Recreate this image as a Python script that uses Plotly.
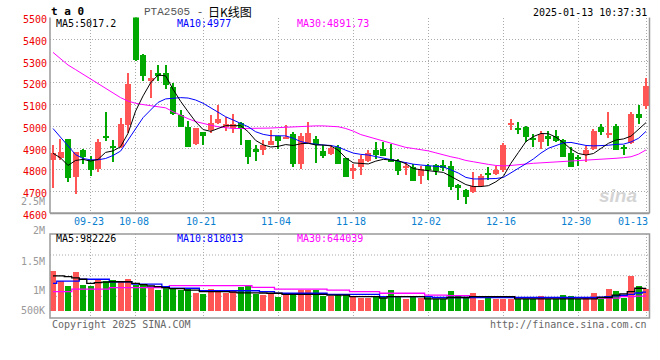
import plotly.graph_objects as go

# ---------------- data ----------------
dates = ["09-12","09-13","09-18","09-19","09-20","09-23","09-24","09-25","09-26","09-27",
         "09-30","10-08","10-09","10-10","10-11","10-14","10-15","10-16","10-17","10-18",
         "10-21","10-22","10-23","10-24","10-25","10-28","10-29","10-30","10-31","11-01",
         "11-04","11-05","11-06","11-07","11-08","11-11","11-12","11-13","11-14","11-15",
         "11-18","11-19","11-20","11-21","11-22","11-25","11-26","11-27","11-28","11-29",
         "12-02","12-03","12-04","12-05","12-06","12-09","12-10","12-11","12-12","12-13",
         "12-16","12-17","12-18","12-19","12-20","12-23","12-24","12-25","12-26","12-27",
         "12-30","12-31","01-02","01-03","01-06","01-07","01-08","01-09","01-10","01-13"]

opens  = [4848,4856,4942,4769,4894,4845,4804,4957,4911,4907,
          5006,5530,5331,5208,5248,5248,5182,5052,4998,4922,
          4975,4983,5018,4998,4994,5018,4940,4899,4891,4914,
          4957,4942,4965,4830,4925,4942,4887,4873,4907,4856,
          4796,4815,4842,4891,4896,4853,4842,4811,4815,4773,
          4818,4822,4822,4818,4730,4707,4700,4726,4787,4781,
          4799,5009,4995,4997,4949,4929,4957,4956,4937,4879,
          4857,4871,4896,4997,4966,5002,4907,4926,5060,5095]
highs  = [4914,4942,4945,4884,4899,4865,4942,5070,4940,5040,
          5248,5560,5335,5259,5285,5285,5202,5078,5025,4994,
          4975,5055,5098,5044,5060,5021,4940,4917,4940,4983,
          4957,5006,4975,4972,5021,4956,4914,4914,4914,4856,
          4830,4871,4891,4930,4930,4919,4850,4838,4830,4819,
          4827,4827,4845,4842,4738,4715,4792,4784,4815,4818,
          4925,5034,5021,5002,4968,4979,4979,4983,4942,4907,
          4868,4910,4991,5011,5070,5014,4917,5070,5101,5224]
lows   = [4718,4845,4746,4692,4830,4772,4792,4935,4838,4902,
          4972,5300,5210,5131,5210,5175,5052,4998,4907,4914,
          4914,4972,5014,4979,4972,4914,4830,4842,4871,4914,
          4899,4942,4815,4804,4925,4833,4856,4870,4827,4769,
          4761,4776,4838,4850,4865,4838,4776,4779,4750,4738,
          4753,4779,4796,4710,4664,4646,4697,4723,4753,4776,
          4792,4983,4965,4930,4907,4899,4911,4930,4861,4815,
          4819,4838,4891,4960,4948,4891,4871,4922,5014,5083]
closes = [4879,4883,4764,4884,4861,4799,4930,4952,4905,5011,
          5195,5305,5233,5223,5233,5193,5060,4998,4907,4994,
          4957,5018,5034,5011,5014,4991,4861,4884,4917,4933,
          4933,4952,4827,4956,4971,4917,4865,4903,4827,4769,
          4811,4850,4879,4868,4865,4838,4796,4815,4750,4807,
          4799,4796,4811,4723,4718,4677,4726,4772,4782,4799,
          4917,5014,4983,4952,4940,4965,4942,4933,4861,4815,
          4853,4891,4979,4975,4972,4891,4899,5060,5040,5187]

ma5  = [4876,4855,4820,4843,4848,4840,4848,4880,4887,4906,
        4968,5070,5140,5200,5236,5232,5170,5115,5067,5021,
        4985,4977,4990,5003,5003,5003,4975,4935,4915,4905,
        4908,4916,4912,4920,4922,4914,4914,4910,4890,4855,
        4832,4830,4827,4840,4848,4845,4842,4828,4806,4800,
        4796,4795,4788,4770,4750,4732,4723,4723,4727,4745,
        4770,4830,4880,4930,4953,4967,4966,4950,4925,4895,
        4875,4868,4875,4900,4922,4937,4942,4955,4985,5017.2]
ma10 = [4990,4950,4907,4870,4852,4846,4846,4852,4866,4886,
        4937,4990,5040,5075,5110,5126,5130,5132,5130,5121,
        5106,5086,5067,5044,5029,5014,4998,4975,4963,4957,
        4957,4956,4945,4930,4922,4917,4914,4912,4905,4890,
        4877,4871,4868,4861,4854,4848,4840,4832,4826,4822,
        4820,4817,4813,4800,4785,4765,4758,4758,4758,4760,
        4765,4785,4805,4828,4850,4877,4899,4913,4924,4926,
        4920,4912,4910,4910,4913,4917,4918,4928,4945,4977]
ma30 = [5340,5313,5282,5261,5240,5218,5196,5175,5152,5132,
        5116,5106,5100,5096,5092,5085,5067,5050,5035,5022,
        5012,5005,4998,4993,4990,4990,4990,4990,4990,4992,
        4994,4996,4998,5000,5002,5002,5002,5001,4998,4990,
        4978,4962,4952,4942,4930,4922,4911,4903,4898,4893,
        4887,4878,4868,4860,4853,4843,4837,4830,4825,4820,
        4818,4820,4824,4828,4830,4832,4834,4836,4837,4839,
        4840,4842,4845,4848,4850,4853,4856,4860,4872,4891.73]

volumes = [1740000,1300000,1080000,1710000,1120000,1080000,1370000,1310000,1370000,1270000,
           1390000,1120000,1200000,1000000, 900000,1080000, 980000, 900000,1020000, 780000,
            730000, 950000, 900000, 760000, 900000,1050000,1090000, 730000, 680000, 780000,
            610000, 680000, 730000, 930000, 930000, 930000, 650000, 650000, 710000, 710000,
            610000, 560000, 580000, 610000, 610000, 930000, 610000, 500000, 650000, 580000,
            610000, 500000, 500000, 860000, 650000, 580000, 760000, 460000, 580000, 500000,
            500000, 500000, 500000, 500000, 500000, 640000, 500000, 500000, 680000, 640000,
            500000, 610000, 760000, 500000, 980000, 860000, 580000,1530000,1080000, 950000]
vma5  = [1540000,1540000,1510000,1450000,1390000,1210000,1240000,1260000,1280000,1280000,
         1280000,1210000,1150000,1090000,1060000,1020000, 970000, 970000, 910000, 910000,
          840000, 840000, 840000, 840000, 820000, 790000, 790000, 790000, 780000, 770000,
          770000, 720000, 720000, 720000, 720000, 720000, 720000, 690000, 690000, 690000,
          620000, 620000, 620000, 620000, 550000, 620000, 620000, 620000, 620000, 620000,
          520000, 520000, 520000, 580000, 580000, 580000, 620000, 620000, 620000, 620000,
          620000, 620000, 520000, 520000, 520000, 520000, 520000, 520000, 520000, 520000,
          520000, 520000, 520000, 580000, 580000, 690000, 740000, 840000, 990000, 982226]
vma10 = [1210000,1310000,1310000,1310000,1390000,1390000,1390000,1390000,1280000,1280000,
         1280000,1170000,1170000,1170000,1170000,1060000, 990000, 990000, 990000, 990000,
          880000, 880000, 880000, 880000, 880000, 880000, 880000, 880000, 840000, 840000,
          770000, 770000, 770000, 770000, 770000, 770000, 770000, 720000, 720000, 720000,
          720000, 720000, 720000, 720000, 620000, 620000, 620000, 620000, 620000, 620000,
          620000, 580000, 580000, 580000, 580000, 580000, 580000, 580000, 580000, 580000,
          580000, 580000, 580000, 580000, 580000, 580000, 580000, 580000, 580000, 580000,
          580000, 580000, 580000, 600000, 620000, 650000, 680000, 720000, 780000, 818013]
vma30 = [ 840000, 840000, 840000, 950000, 950000, 950000, 950000, 950000,1020000,1020000,
         1020000,1020000,1020000,1020000,1020000,1020000,1110000,1110000,1110000,1110000,
         1110000,1110000,1110000,1110000,1110000,1110000,1110000,1030000,1030000,1030000,
          950000, 950000, 950000, 950000, 950000, 950000, 950000, 910000, 910000, 910000,
          840000, 840000, 840000, 840000, 770000, 770000, 770000, 770000, 770000, 770000,
          690000, 690000, 690000, 660000, 660000, 660000, 620000, 620000, 620000, 620000,
          620000, 620000, 570000, 570000, 570000, 570000, 570000, 570000, 570000, 570000,
          570000, 550000, 550000, 550000, 550000, 550000, 620000, 620000, 640000, 644039]

date_labels = ["09-23","10-08","10-21","11-04","11-18","12-02","12-16","12-30","01-13"]
price_ticks = [4600,4700,4800,4900,5000,5100,5200,5300,5400,5500]
vol_axis_labels = ["2.5M","2M","1.5M","1M","500K"]

# ---------------- styling ----------------
W, H = 660, 360
RED, GREEN = "#ff5555", "#00a800"
MONO = "DejaVu Sans Mono"
L, R = 50, 649.5
P_TOP, P_BOT = 17.6, 213.3
V_TOP, V_BOT = 234, 318

def px(x): return x / W
def py(y): return 1 - y / H

colors = [RED if c >= o else GREEN for o, c in zip(opens, closes)]
body_base = [min(o, c) for o, c in zip(opens, closes)]
body_h = [max(abs(c - o), 4) for o, c in zip(opens, closes)]
wick_h = [h - l for h, l in zip(highs, lows)]

fig = go.Figure()
fig.add_trace(go.Bar(x=dates, y=wick_h, base=lows, width=0.14, marker_color=colors,
                     marker_line_width=0, xaxis="x", yaxis="y", hoverinfo="skip"))
fig.add_trace(go.Bar(x=dates, y=body_h, base=body_base, width=0.8, marker_color=colors,
                     marker_line_width=0, xaxis="x", yaxis="y"))
for vals, col in [(ma30, "#ff00ff"), (ma10, "#0000ff"), (ma5, "#000000")]:
    fig.add_trace(go.Scatter(x=dates, y=vals, mode="lines", line=dict(color=col, width=1),
                             xaxis="x", yaxis="y", hoverinfo="skip"))
fig.add_trace(go.Bar(x=dates, y=volumes, width=0.8, marker_color=colors, marker_line_width=0,
                     xaxis="x2", yaxis="y2"))
for vals, col in [(vma30, "#ff00ff"), (vma10, "#0000ff"), (vma5, "#000000")]:
    fig.add_trace(go.Scatter(x=dates, y=vals, mode="lines", line=dict(color=col, width=1.3, shape="hvh"),
                             xaxis="x2", yaxis="y2", hoverinfo="skip"))

xcommon = dict(domain=[px(L), px(R)], type="category", range=[-0.4, 79.46],
               showticklabels=False, ticks="", showgrid=True, gridcolor="#aaaaaa",
               griddash="1px,2px", gridwidth=1, tickvals=date_labels, zeroline=False,
               showline=False, fixedrange=True, automargin=False)
fig.update_layout(
    width=W, height=H, margin=dict(l=0, r=0, t=0, b=0, autoexpand=False),
    paper_bgcolor="white", plot_bgcolor="white", showlegend=False,
    barmode="overlay", bargap=0,
    xaxis=dict(anchor="y", **xcommon),
    xaxis2=dict(anchor="y2", matches="x", **xcommon),
    yaxis=dict(domain=[py(P_BOT), py(P_TOP)], range=[4600, 5500], tickvals=price_ticks,
               tickfont=dict(family=MONO, size=10, color="#ee0000"), ticks="",
               showgrid=True, gridcolor="#aaaaaa", griddash="1px,2px", zeroline=False,
               showline=False, anchor="x", automargin=False, ticklabelstandoff=2,
               ticklabelshift=2),
    yaxis2=dict(domain=[py(V_BOT), py(V_TOP)], range=[-330000, 3400000], showticklabels=False,
                ticks="", showgrid=False, zeroline=False, showline=False, anchor="x2",
                automargin=False),
)

shapes = []
line_col = "#999999"
shapes.append(dict(type="line", xref="paper", yref="paper", x0=px(L), x1=px(L), y0=py(P_BOT), y1=py(P_TOP),
                   line=dict(color=line_col, width=1.5)))
shapes.append(dict(type="line", xref="paper", yref="paper", x0=px(R), x1=px(R), y0=py(P_BOT), y1=py(P_TOP),
                   line=dict(color=line_col, width=1.5)))
shapes.append(dict(type="line", xref="paper", yref="paper", x0=px(L), x1=px(R), y0=py(P_BOT), y1=py(P_BOT),
                   line=dict(color=line_col, width=2)))
shapes.append(dict(type="rect", xref="paper", yref="paper", x0=px(L), x1=px(R), y0=py(V_BOT), y1=py(V_TOP),
                   line=dict(color=line_col, width=1.5)))
for gy in [255, 275.7, 296.3]:
    shapes.append(dict(type="line", xref="paper", yref="paper", x0=px(L), x1=px(R), y0=py(gy), y1=py(gy),
                       line=dict(color="#aaaaaa", width=1, dash="1px,2px"), layer="below"))
fig.update_layout(shapes=shapes)

ann = []
def text(x, y, s, color="#000000", size=10, anchor="left", family=MONO):
    ann.append(dict(x=px(x), y=py(y), xref="paper", yref="paper", text=s, showarrow=False,
                    xanchor=anchor, yanchor="middle", font=dict(family=family, size=size, color=color)))

text(49, 11.5, "<b>t a 0</b>", size=11)
text(141.5, 11.5, "PTA2505 -", color="#555555", size=11, family="Liberation Mono")
text(206, 11.5, "日K线图", size=12, family="Noto Sans CJK SC")
text(649, 12.5, "2025-01-13 10:37:31", anchor="right")
text(54, 23.3, "MA5:5017.2")
text(175, 23.3, "MA10:4977", color="#0000ff")
text(295, 23.3, "MA30:4891.73", color="#ff00ff")
text(54, 238.5, "MA5:982226")
text(175, 238.5, "MA10:818013", color="#0000ff")
text(295, 238.5, "MA30:644039", color="#ff00ff")
for lab, yy in zip(vol_axis_labels, [201, 230.7, 261, 290.7, 310.7]):
    text(46.5, yy, lab, color="#999999", anchor="right")
text(50, 324, "Copyright 2025 SINA.COM", color="#666666")
text(649, 324, "http://finance.sina.com.cn", color="#666666", anchor="right")
text(618, 195, "<b><i>sina</i></b>", color="#d4d4d4", size=19, anchor="center", family="Liberation Sans")

for i, lab in enumerate(date_labels):
    if i == len(date_labels) - 1:
        ann.append(dict(x=px(650), y=py(221.7), xref="paper", yref="paper", text=lab, showarrow=False,
                        xanchor="right", yanchor="middle", font=dict(family=MONO, size=10, color="#0a7fd0")))
    else:
        ann.append(dict(x=lab, y=py(221.7), xref="x", yref="paper", text=lab, showarrow=False,
                        xanchor="center", yanchor="middle", xshift=-2,
                        font=dict(family=MONO, size=10, color="#0a7fd0")))
fig.update_layout(annotations=ann)

fig.write_html("out.html", config={"displayModeBar": False},
               post_script="document.body.style.margin='0';document.body.style.padding='0';"
                           "document.body.style.overflow='hidden';")
